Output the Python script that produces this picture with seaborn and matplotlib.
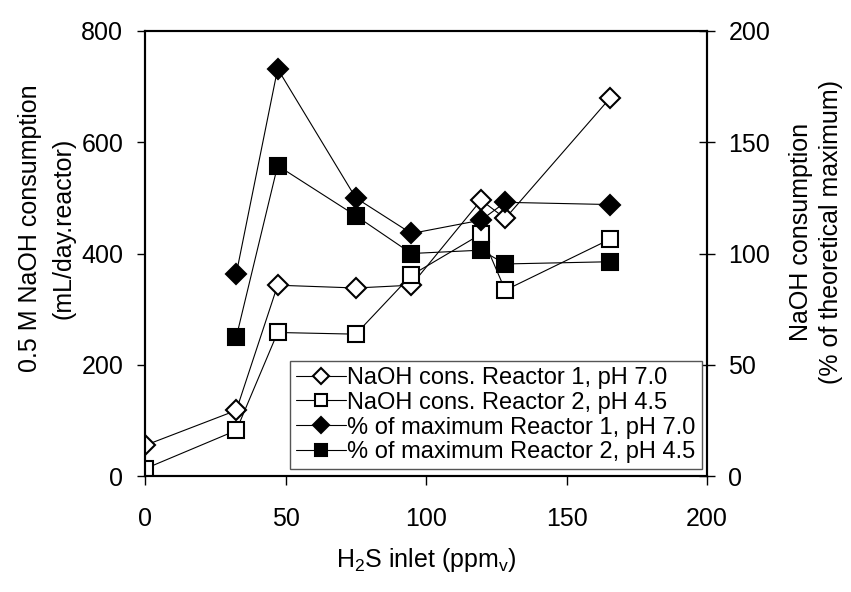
import matplotlib
matplotlib.use("Agg")
import matplotlib.pyplot as plt
import seaborn as sns
import pandas as pd

sns.set_theme(style="white")
plt.rcParams["font.family"] = ["Liberation Sans", "DejaVu Sans"]
plt.rcParams["mathtext.default"] = "regular"
plt.rcParams["text.color"] = "black"
plt.rcParams["xtick.color"] = "black"
plt.rcParams["ytick.color"] = "black"

# H2S inlet concentration (ppmv)
h2s_inlet = [0, 32.5, 47.2, 75.0, 94.8, 119.6, 128.2, 165.6]
# 0.5 M NaOH consumption (mL/day.reactor)
naoh_r1 = [55, 118, 343, 338, 343, 496, 463, 680]
naoh_r2 = [13, 82, 258, 255, 361, 435, 334, 426]
# NaOH consumption as % of theoretical maximum (no value at 0 ppmv)
h2s_pct = [32.5, 47.2, 75.0, 94.8, 119.6, 128.2, 165.6]
pct_r1 = [91, 183, 125, 109, 115, 123, 122]
pct_r2 = [62.5, 139.5, 117, 100, 101.5, 95.3, 96.3]

labels = [
    "NaOH cons. Reactor 1, pH 7.0",
    "NaOH cons. Reactor 2, pH 4.5",
    "% of maximum Reactor 1, pH 7.0",
    "% of maximum Reactor 2, pH 4.5",
]

W, H = 851, 592
fig = plt.figure(figsize=(W / 100, H / 100), dpi=100)
# plot frame: x 145..707 px, y 31..476 px
ax = fig.add_axes([145 / W, 1 - 476 / H, 562 / W, 445 / H])
ax2 = ax.twinx()

line_kw = dict(color="black", linewidth=0.8, markeredgecolor="black",
               markeredgewidth=1.5, estimator=None, sort=False)


def draw(axis, xs, ys, marker, face, size, label):
    df = pd.DataFrame({"x": xs, "y": ys})
    sns.lineplot(data=df, x="x", y="y", ax=axis, marker=marker,
                 markerfacecolor=face, markersize=size, label=label, **line_kw)


draw(ax, h2s_inlet, naoh_r1, "D", "white", 10, labels[0])
draw(ax, h2s_inlet, naoh_r2, "s", "white", 11, labels[1])
draw(ax2, h2s_pct, pct_r1, "D", "black", 10, labels[2])
draw(ax2, h2s_pct, pct_r2, "s", "black", 11, labels[3])

ax.set_xlim(0, 200)
ax.set_ylim(0, 800)
ax2.set_ylim(0, 200)
ax.set_xticks([0, 50, 100, 150, 200])
ax.set_yticks([0, 200, 400, 600, 800])
ax2.set_yticks([0, 50, 100, 150, 200])
ax.set_xlabel("")
ax.set_ylabel("")
ax2.set_ylabel("")

fs = 18
for a in (ax, ax2):
    for s in a.spines.values():
        s.set_color("black")
        s.set_linewidth(1.5)
ax.tick_params(axis="y", direction="out", length=6, width=1, labelsize=fs,
               pad=9.6, left=True)
ax.tick_params(axis="x", direction="out", length=6.5, width=1, labelsize=fs,
               pad=15.5, bottom=True)
ax2.tick_params(axis="y", direction="inout", length=12, width=1,
                labelsize=fs, pad=9.4, right=True)

# axis titles
fig.text(426 / W, 1 - 567.5 / H, "H$_2$S inlet (ppm$_v$)", fontsize=fs,
         ha="center", va="baseline")
fig.text(47 / W, 1 - 228 / H, "0.5 M NaOH consumption\n(mL/day.reactor)",
         fontsize=fs, rotation=90, ha="center", va="center",
         multialignment="center", linespacing=1.5)
fig.text(816 / W, 1 - 232 / H, "NaOH consumption\n(% of theoretical maximum)",
         fontsize=fs, rotation=90, ha="center", va="center",
         multialignment="center", linespacing=1.35)

h1, l1 = ax.get_legend_handles_labels()
h2, l2 = ax2.get_legend_handles_labels()
if ax.get_legend():
    ax.get_legend().remove()
leg = ax2.legend(h1 + h2, l1 + l2, loc="lower right", fontsize=17,
                 frameon=True, fancybox=False, edgecolor="#555555",
                 framealpha=1, borderpad=0.25, labelspacing=0.12,
                 handlelength=2.1, handletextpad=0.08, borderaxespad=0,
                 markerscale=0.8,
                 bbox_to_anchor=((701.7 - 145) / 562, (476 - 469.3) / 445))
leg.get_frame().set_linewidth(1.0)

fig.savefig("out.png", dpi=100)
